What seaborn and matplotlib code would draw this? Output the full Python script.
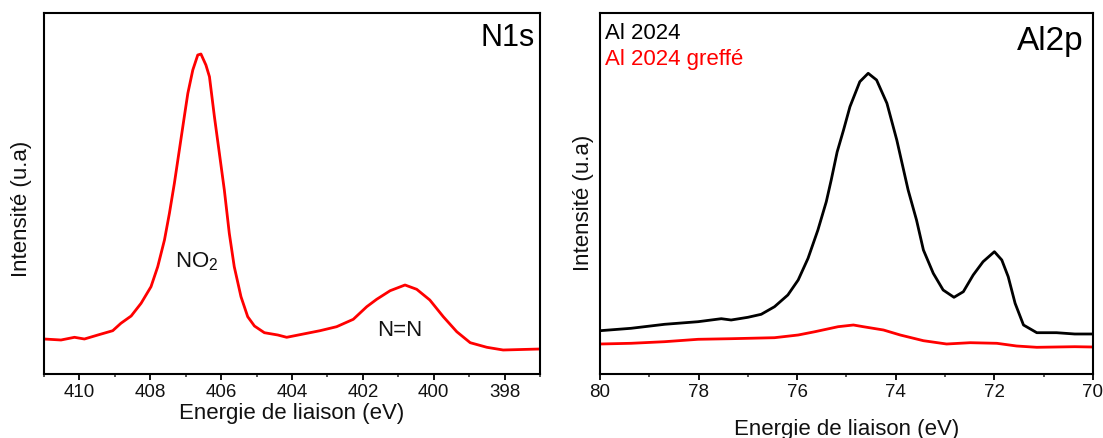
import numpy as np
import pandas as pd
import matplotlib
matplotlib.use("Agg")
import matplotlib.pyplot as plt
import seaborn as sns
from matplotlib.ticker import MultipleLocator

# ---------------- data (arbitrary units) -------------
n1s_be = [411.0, 410.52, 410.14, 409.86, 409.48, 409.06, 408.83, 408.54, 408.26, 407.98,
          407.79, 407.60, 407.46, 407.32, 407.18, 407.04, 406.94, 406.80, 406.66, 406.57,
          406.43, 406.33, 406.19, 406.05, 405.91, 405.77, 405.63, 405.44, 405.25, 405.06,
          404.78, 404.40, 404.15, 403.68, 403.21, 402.74, 402.27, 401.89, 401.61, 401.23,
          400.81, 400.48, 400.11, 399.73, 399.35, 398.97, 398.50, 398.04, 397.0]
n1s_int = [35.0, 34.0, 36.7, 35.0, 39.0, 43.3, 50.7, 58.0, 70.7, 87.3,
           107.3, 134.0, 160.7, 190.7, 224.0, 257.3, 280.7, 304.0, 319.0, 320.0,
           309.0, 297.3, 257.3, 220.7, 184.0, 140.7, 107.3, 77.3, 57.3, 48.0,
           41.3, 39.0, 36.7, 40.0, 43.3, 47.3, 54.7, 67.3, 74.7, 83.3,
           89.0, 84.7, 74.0, 57.3, 42.3, 31.3, 26.7, 24.0, 25.0]

al_be = [80.0, 79.37, 78.69, 78.01, 77.54, 77.34, 77.00, 76.73, 76.46, 76.19,
         75.98, 75.78, 75.58, 75.41, 75.31, 75.19, 75.06, 74.93, 74.73, 74.56,
         74.39, 74.18, 73.98, 73.75, 73.58, 73.44, 73.24, 73.04, 72.82, 72.63,
         72.43, 72.23, 72.00, 71.85, 71.72, 71.58, 71.41, 71.14, 70.74, 70.37, 70.0]
al_int = [43.3, 45.7, 49.7, 52.3, 55.3, 54.0, 56.7, 59.7, 67.3, 79.0,
          94.0, 115.7, 144.0, 172.3, 194.0, 222.0, 244.0, 267.3, 292.3, 300.7,
          294.0, 270.7, 234.0, 184.0, 154.0, 124.0, 100.7, 84.0, 76.7, 82.3,
          99.0, 112.3, 122.3, 114.0, 97.3, 70.7, 49.0, 41.3, 41.3, 40.0, 40.0]

alg_be = [80.0, 79.37, 78.69, 78.01, 77.34, 76.46, 75.98, 75.64, 75.17, 74.86,
          74.66, 74.25, 73.91, 73.44, 72.97, 72.49, 71.95, 71.55, 71.14, 70.37, 70.0]
alg_int = [30.0, 30.7, 32.3, 34.7, 35.3, 36.3, 39.0, 42.3, 47.3, 49.0,
           47.3, 44.0, 39.0, 33.3, 30.0, 31.3, 30.7, 28.0, 26.7, 27.3, 27.0]

n1s_ticks = [410, 408, 406, 404, 402, 400, 398]
al_ticks = [80, 78, 76, 74, 72, 70]

series_names = ["Al 2024", "Al 2024 greffé"]

# ---------------- style ----------------
sns.set_style("ticks")
plt.rcParams['font.family'] = ['Liberation Sans', 'DejaVu Sans']
plt.rcParams['mathtext.default'] = 'regular'

fig = plt.figure(figsize=(11.03, 4.38), dpi=100)
W, H = 1103, 438
ax1 = fig.add_axes([44 / W, (H - 374) / H, 496 / W, 361 / H])
ax2 = fig.add_axes([600 / W, (H - 374) / H, 493 / W, 361 / H])

df1 = pd.DataFrame({"BE": n1s_be, "I": n1s_int})
sns.lineplot(data=df1, x="BE", y="I", ax=ax1, color="#ff0000", lw=2.0, sort=False)

df2 = pd.concat([
    pd.DataFrame({"BE": al_be, "I": al_int, "s": series_names[0]}),
    pd.DataFrame({"BE": alg_be, "I": alg_int, "s": series_names[1]}),
])
sns.lineplot(data=df2, x="BE", y="I", hue="s", ax=ax2,
             palette=["#000000", "#ff0000"], lw=2.0, sort=False, legend=False)

for ax, lim, ticks in [(ax1, (411, 397), n1s_ticks), (ax2, (80, 70), al_ticks)]:
    ax.set_xlim(*lim)
    ax.set_ylim(0, 361)
    ax.set_xticks(ticks)
    ax.xaxis.set_minor_locator(MultipleLocator(1))
    ax.set_yticks([])
    ax.tick_params(axis='x', which='major', direction='out', length=4.5, width=1.3,
                   labelsize=13.5, pad=3, color='black', labelcolor='#111111')
    ax.tick_params(axis='x', which='minor', direction='out', length=2.5, width=1.1)
    for sp in ax.spines.values():
        sp.set_linewidth(1.5)
        sp.set_color('black')
        sp.set_visible(True)
    ax.set_xlabel("Energie de liaison (eV)", fontsize=16, color='#111111')
    ax.set_ylabel("Intensité (u.a)", fontsize=16, color='#111111')

ax1.xaxis.set_label_coords(0.5, -0.080)
ax2.xaxis.set_label_coords(0.5, -0.125)
ax1.yaxis.set_label_coords(-0.024, 0.458)
ax2.yaxis.set_label_coords(-0.012, 0.474)

ax1.text(0.990, 0.909, "N1s", transform=ax1.transAxes, ha='right', va='baseline',
         fontsize=22, color='black')
ax2.text(0.980, 0.898, "Al2p", transform=ax2.transAxes, ha='right', va='baseline',
         fontsize=24, color='black')
ax2.text(0.010, 0.927, series_names[0], transform=ax2.transAxes, ha='left', va='baseline',
         fontsize=16, color='black')
ax2.text(0.010, 0.856, series_names[1], transform=ax2.transAxes, ha='left', va='baseline',
         fontsize=16, color='#ff0000')

ax1.text(0.264, 0.296, r"$\mathregular{NO_2}$", transform=ax1.transAxes, ha='left',
         va='baseline', fontsize=16, color='#111111')
ax1.text(0.671, 0.105, "N=N", transform=ax1.transAxes, ha='left', va='baseline',
         fontsize=16, color='#111111')

fig.savefig("out.png", dpi=100)
